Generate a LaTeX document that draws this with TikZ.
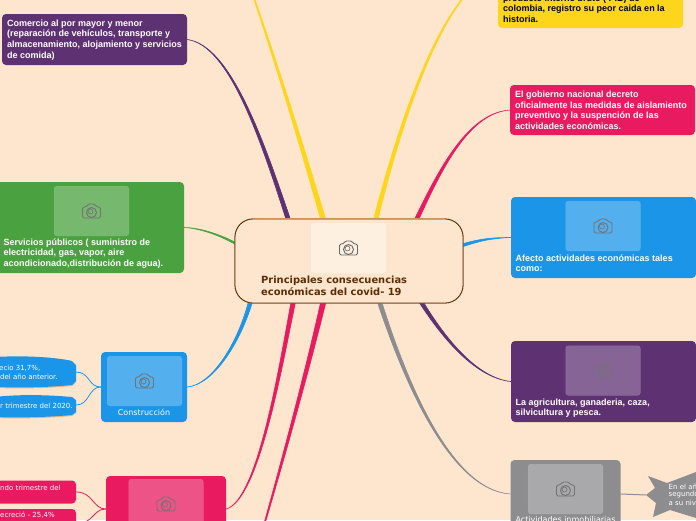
\documentclass[tikz,border=0pt]{standalone}
\usepackage{fontspec}
\setmainfont{Liberation Sans}
\newfontfamily\verdfont{DejaVu Sans}
\usetikzlibrary{calc}
\definecolor{paper}{HTML}{FEE6CE}
\definecolor{hubline}{HTML}{5C2D05}
\definecolor{mypurple}{HTML}{5E3172}
\definecolor{mygreen}{HTML}{4AA13F}
\definecolor{myblue}{HTML}{1A95E8}
\definecolor{mypink}{HTML}{E91A5F}
\definecolor{mygray}{HTML}{8D8D8F}
\definecolor{myyellow}{HTML}{FDD61C}
\newcommand{\branch}[6]{\fill[#1,draw=#1,line width=0.6pt] ($(#2)+#6$) .. controls ($#4+0.67*#6$) and ($#5+0.33*#6$) .. (#3) .. controls ($#5-0.33*#6$) and ($#4-0.67*#6$) .. ($(#2)-#6$) -- cycle;}
\tikzset{
  box/.style={rounded corners=4pt,inner sep=0pt},
  hubbox/.style={draw=hubline,fill=paper,rounded corners=18pt,line width=0.8pt,minimum width=228pt,minimum height=84pt,inner sep=0pt},
  photo/.style={rounded corners=3pt,fill=white,fill opacity=0.25,draw=white,draw opacity=0.1,minimum width=75pt,minimum height=50pt,inner sep=0pt},
  boldtext/.style={font=\fontsize{9}{10.6}\selectfont\bfseries,text=white,align=left,anchor=north west,inner sep=0pt},
  smalltext/.style={font=\verdfont\fontsize{7}{8.6}\selectfont,text=white,align=left,anchor=west,inner sep=0pt},
  nodetext/.style={font=\verdfont\fontsize{8}{9}\selectfont,text=white,inner sep=0pt},
  thinline/.style={line width=0.8pt},
  leafshadow/.style={fill=brown!70!orange,fill opacity=0.45,transform canvas={yshift=-1pt}},
  camera/.pic={
    \draw[#1,line width=0.9pt,rounded corners=1.5pt] (-9,7) -- (-9,-4) -- (-5,-4) -- (-3.5,-7) -- (3.5,-7) -- (5,-4) -- (9,-4) -- (9,7) -- cycle;
    \draw[#1,line width=0.9pt] (0,1.5) circle (5);
    \draw[#1,line width=0.6pt] (-1,0.5) circle (2.5);
  }
}
\begin{document}
\begin{tikzpicture}[x=1pt,y=-1pt]
\useasboundingbox (0,0) rectangle (696,520);
\clip (0,0) rectangle (696,520);
\fill[paper] (0,0) rectangle (696,520);
% nodes
\node[box,fill=mypurple,minimum width=185pt,minimum height=51pt] (comercio) at (94.5,39.5) {};
\node[box,fill=mygreen,minimum width=189pt,minimum height=91pt] (servicios) at (89.5,227.5) {};
\node[box,fill=myblue,minimum width=86pt,minimum height=70pt] (construccion) at (144,387) {};
\node[box,fill=mypink,minimum width=120pt,minimum height=66pt] (sector) at (166,509) {};
\node[box,fill=myyellow,minimum width=185pt,minimum height=106pt] (pib) at (590.5,-25) {};
\node[box,fill=mypink,minimum width=185pt,minimum height=50pt] (gobierno) at (602.5,110) {};
\node[box,fill=myblue,minimum width=185pt,minimum height=81pt] (afecto) at (603.5,237.5) {};
\node[box,fill=mypurple,minimum width=185pt,minimum height=81pt] (agricultura) at (603.5,381.5) {};
\node[box,fill=mygray,minimum width=110pt,minimum height=68pt] (inmobiliarias) at (565.5,494) {};
\node[hubbox] (hub) at (349,261) {};
% branches
\coordinate (offtop) at (230,-70);
\coordinate (offbottom) at (245,590);
\branch{myyellow}{$(hub.north)+(-26,0)$}{offtop}{(300,140)}{(270,40)}{(2.6,0)}
\branch{mypurple}{$(hub.north)+(-61,0)$}{comercio.east}{(262,140)}{(230,45)}{(2.2,0)}
\branch{mygreen}{$(hub.west)+(0,-18)$}{servicios.east}{(220,235)}{(200,228)}{(0,1)}
\branch{myblue}{$(hub.south)+(-99,0)$}{construccion.east}{(238,345)}{(212,385)}{(2,0)}
\branch{mypink}{$(hub.south)+(-56,0)$}{sector.east}{(280,370)}{(258,500)}{(2.2,0)}
\branch{mypink}{$(hub.south)+(-26,0)$}{offbottom}{(305,380)}{(275,490)}{(2.6,0)}
\branch{mygray}{$(hub.south)+(31,0)$}{inmobiliarias.west}{(405,380)}{(450,490)}{(2.2,0)}
\branch{mypurple}{$(hub.south)+(73,0)$}{agricultura.west}{(445,340)}{(477,378)}{(2.2,0)}
\branch{myblue}{$(hub.east)+(0,-16)$}{afecto.west}{(480,240)}{(490,238)}{(0,1.5)}
\branch{mypink}{$(hub.north)+(68,0)$}{gobierno.west}{(440,170)}{(468,113)}{(2.2,0)}
\branch{myyellow}{$(hub.north)+(27,0)$}{pib.west}{(398,130)}{(445,-20)}{(2.2,0)}
\node[hubbox] at (hub) {};
\draw[brown!80!paper,line width=1.3pt] ($(hub.north west)+(18,0)$) -- ($(hub.north east)+(-18,0)$);
% photos
\node[photo,fill opacity=0.4] (hubphoto) at (348.5,248) {};
\node[photo] (serviciosphoto) at (91.5,211) {};
\node[photo] (construccionphoto) at (144.5,381) {};
\node[photo] (sectorphoto) at (166,504) {};
\node[photo] (afectophoto) at (603,226) {};
\node[photo] (agriculturaphoto) at (603,370.5) {};
\node[photo] (inmobiliariasphoto) at (565.5,489) {};
\pic at (hubphoto) {camera=black!60};
\pic at (serviciosphoto) {camera=black!55};
\pic at (construccionphoto) {camera=black!55};
\pic at (sectorphoto) {camera=black!55};
\pic at (afectophoto) {camera=black!55};
\pic at (agriculturaphoto) {camera=black!55};
\pic at (inmobiliariasphoto) {camera=black!55};
% leaves
\path[leafshadow] (-5,357) .. controls (30,355) and (60,358) .. (72,361) -- (76,365) -- (76,381) -- (72,385) .. controls (50,387) and (30,388) .. (-5,387) -- cycle;
\path[fill=myblue] (-5,357) .. controls (30,355) and (60,358) .. (72,361) -- (76,365) -- (76,381) -- (72,385) .. controls (50,387) and (30,388) .. (-5,387) -- cycle;
\path[leafshadow] (-5,397) .. controls (20,394) and (50,395) .. (72,397) -- (76,400) -- (76,412) -- (72,415) .. controls (50,417) and (20,418) .. (-5,417) -- cycle;
\path[fill=myblue] (-5,397) .. controls (20,394) and (50,395) .. (72,397) -- (76,400) -- (76,412) -- (72,415) .. controls (50,417) and (20,418) .. (-5,417) -- cycle;
\coordinate (leafone) at (76,372);
\coordinate (leaftwo) at (76,405);
\node[box,fill=mypink,minimum width=81pt,minimum height=23pt] (leafthree) at (35.5,492) {};
\node[box,fill=mypink,minimum width=81pt,minimum height=30pt] (leaffour) at (35.5,524) {};
\path[fill=mygray] (646,495) -- (655,488) -- (648,476) -- (667,483) -- (696,472) -- (700,472) -- (700,518) -- (696,518) -- (670,510) -- (653,517) -- (656,503) -- cycle;
\coordinate (leaffive) at (646,495);
% thin connectors
\draw[myblue,thinline] (construccion.west) .. controls (88,387) and (90,372) .. (leafone);
\draw[myblue,thinline] (construccion.west) .. controls (88,387) and (90,405) .. (leaftwo);
\draw[mypink,thinline] (sector.west) .. controls (93,509) and (93,492) .. (leafthree.east);
\draw[mypink,thinline] (sector.west) .. controls (93,509) and (93,524) .. (leaffour.east);
\draw[mygray,line width=1pt] (inmobiliarias.east) -- (leaffive);
% texts
\node[boldtext] (comerciotext) at (7,19.5) {Comercio al por mayor y menor\\(reparación de vehículos, transporte y\\almacenamiento, alojamiento y servicios\\de comida)};
\node[boldtext] (serviciostext) at (3.5,238.5) {Servicios públicos ( suministro de\\electricidad, gas, vapor, aire\\acondicionado,distribución de agua).};
\node[boldtext,text=black] (pibtext) at (503,-5.5) {producto interno bruto ( PIB) de\\colombia, registro su peor caida en la\\historia.};
\node[boldtext] (gobiernotext) at (515,90.8) {El gobierno nacional decreto\\oficialmente las medidas de aislamiento\\preventivo y la suspención de las\\actividades económicas.};
\node[boldtext] (afectotext) at (515.5,254.5) {Afecto actividades económicas tales\\como:};
\node[boldtext] (agriculturatext) at (515.5,398.5) {La agricultura, ganaderia, caza,\\silvicultura y pesca.};
\node[nodetext] (construcciontext) at (144,412.5) {Construcción};
\node[nodetext] (inmobiliariastext) at (565.5,520) {Actividades inmobiliarias};
\node[font=\verdfont\fontsize{9.9}{12}\selectfont\bfseries,text=hubline,align=left,anchor=north west,inner sep=0pt] (hubtext) at (261,275.5) {Principales consecuencias\\económicas del covid- 19};
\node[smalltext] (leafonetext) at (-1,368) {ecio 31,7\%,};
\node[smalltext] (leafoneb) at (0,377) {del año anterior.};
\node[smalltext] (leaftwotext) at (0,405.5) {r trimestre del 2020.};
\node[smalltext] (leafthreetext) at (0,487.5) {ndo trimestre del};
\node[smalltext] (leaffourtext) at (0,515.5) {ecreció - 25,4\%};
\node[smalltext] (leaffivea) at (668.5,486.5) {En el añ};
\node[smalltext] (leaffiveb) at (668.5,494.5) {segundo};
\node[smalltext] (leaffivec) at (668.5,503) {a su niv};
\end{tikzpicture}
\end{document}
